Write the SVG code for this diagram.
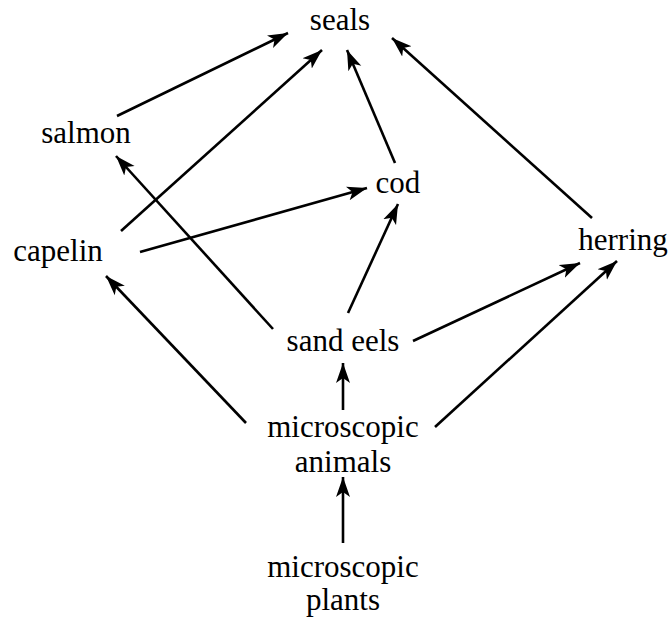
<svg xmlns="http://www.w3.org/2000/svg" width="671" height="619" viewBox="0 0 671 619">
<defs>
<marker id="ah" markerUnits="userSpaceOnUse" markerWidth="22" markerHeight="16" refX="20" refY="8" orient="auto">
<path d="M0,1 L20,8 L0,15 L5,8 Z" fill="#000"/>
</marker>
</defs>
<style>
text{font-size:31px;fill:#000;text-anchor:middle}
.c line{stroke:#000;stroke-width:2.6;fill:none;marker-end:url(#ah)}
</style>
<rect width="671" height="619" fill="#fff"/>
<g class="c" id="connectors">
<line x1="117" y1="116" x2="288" y2="33"/>
<line x1="121" y1="231" x2="322" y2="50"/>
<line x1="395" y1="163" x2="347" y2="50"/>
<line x1="592" y1="218" x2="392" y2="38"/>
<line x1="140" y1="252" x2="367" y2="188"/>
<line x1="273" y1="329" x2="116" y2="156"/>
<line x1="348" y1="313" x2="398" y2="204"/>
<line x1="413" y1="341" x2="580" y2="263"/>
<line x1="435" y1="427" x2="617" y2="261"/>
<line x1="246" y1="423" x2="106" y2="276"/>
<line x1="343" y1="410" x2="343" y2="363"/>
<line x1="343" y1="543" x2="343" y2="477"/>
</g>
<g font-family="Liberation Serif, Times New Roman, DejaVu Serif, serif">
<g id="seals"><text x="340" y="30">seals</text></g>
<g id="salmon"><text x="86" y="143">salmon</text></g>
<g id="cod"><text x="398" y="193">cod</text></g>
<g id="capelin"><text x="58" y="261">capelin</text></g>
<g id="herring"><text x="623" y="250">herring</text></g>
<g id="sand-eels"><text x="343" y="351">sand eels</text></g>
<g id="microscopic-animals"><text x="343" y="437">microscopic</text><text x="343" y="472">animals</text></g>
<g id="microscopic-plants"><text x="343" y="577">microscopic</text><text x="343" y="610">plants</text></g>
</g>
</svg>
